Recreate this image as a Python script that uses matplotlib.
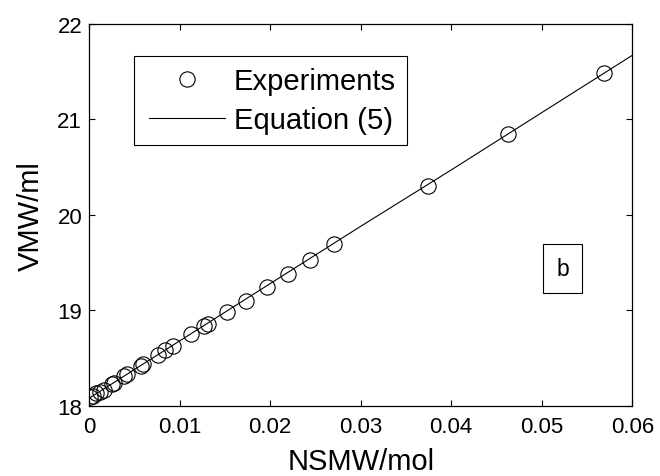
import matplotlib
matplotlib.use("Agg")
import matplotlib.pyplot as plt
from matplotlib.lines import Line2D
from matplotlib.legend_handler import HandlerLine2D
from matplotlib.patches import Rectangle

plt.rcParams['font.family'] = ['Liberation Sans', 'DejaVu Sans']

nsmw = [0.0001, 0.0004, 0.0008, 0.0012, 0.0016, 0.0025, 0.0027, 0.0039, 0.0042,
        0.0057, 0.0060, 0.0076, 0.0084, 0.0093, 0.0113, 0.0127, 0.0131, 0.0152,
        0.0173, 0.0197, 0.0220, 0.0244, 0.0270, 0.0374, 0.0463, 0.0569]
vmw = [18.09, 18.10, 18.13, 18.15, 18.17, 18.23, 18.24, 18.31, 18.33,
       18.42, 18.44, 18.53, 18.58, 18.63, 18.75, 18.84, 18.86, 18.98,
       19.10, 19.24, 19.38, 19.53, 19.69, 20.30, 20.85, 21.48]

# Equation (5) curve
eq_x = [0.0, 0.01, 0.02, 0.03, 0.04, 0.05, 0.06]
eq_y = [18.08, 18.68, 19.28, 19.88, 20.47, 21.07, 21.67]

x_ticks = [0, 0.01, 0.02, 0.03, 0.04, 0.05, 0.06]
x_labels = ["0", "0.01", "0.02", "0.03", "0.04", "0.05", "0.06"]
y_ticks = [18, 19, 20, 21, 22]

fig = plt.figure(figsize=(6.6, 4.77), dpi=100)
ax = fig.add_axes([0.135, 0.147, 0.823, 0.801])

ax.plot(nsmw, vmw, linestyle="none", marker="o", markersize=11,
        markerfacecolor="none", markeredgecolor="black", markeredgewidth=0.8,
        label="Experiments")
ax.plot(eq_x, eq_y, color="black", linewidth=0.8, label="Equation (5)")

ax.set_xlim(0, 0.06)
ax.set_ylim(18, 22)
ax.set_xticks(x_ticks)
ax.set_xticklabels(x_labels)
ax.set_yticks(y_ticks)
ax.tick_params(direction="in", length=4, width=0.8, top=True, right=True,
               labelsize=16)
ax.tick_params(axis="x", pad=7.5)
ax.tick_params(axis="y", pad=5)
for s in ax.spines.values():
    s.set_linewidth(0.9)

ax.set_xlabel("NSMW/mol", fontsize=21, labelpad=7)
ax.set_ylabel("VMW/ml", fontsize=21, labelpad=9)

leg = ax.legend(loc="upper left", bbox_to_anchor=(0.083, 0.916), fontsize=21,
                frameon=True, fancybox=False, edgecolor="black", framealpha=1,
                handlelength=2.75, handletextpad=0.28, borderpad=0.38,
                labelspacing=0.38, borderaxespad=0,
                handler_map={Line2D: HandlerLine2D(xpad=0.14)})
leg.get_frame().set_linewidth(0.8)

# panel tag "b" in its own box
ax.add_patch(Rectangle((0.836, 0.296), 0.072, 0.128, transform=ax.transAxes,
                       facecolor="white", edgecolor="black", linewidth=0.8))
ax.text(0.872, 0.360, "b", fontsize=16.5, ha="center", va="center",
        transform=ax.transAxes)

fig.savefig("out.png", dpi=100)
